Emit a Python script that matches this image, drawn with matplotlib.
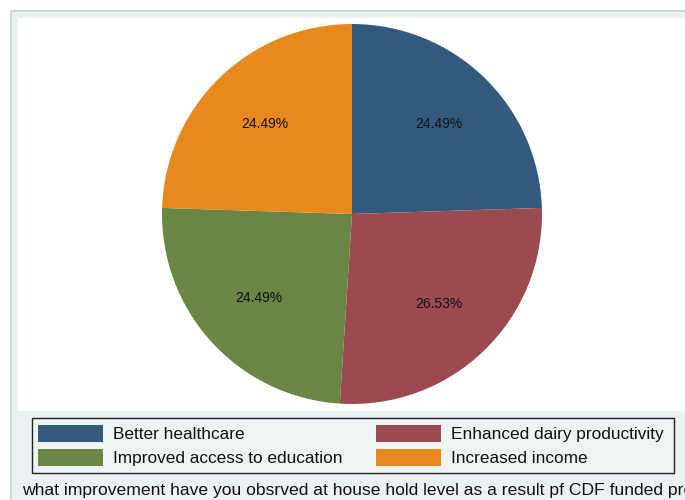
import matplotlib
matplotlib.use("Agg")
import matplotlib.pyplot as plt
from matplotlib.patches import Rectangle

plt.rcParams["font.family"] = ["Liberation Sans", "DejaVu Sans"]

# responses per improvement category (pie goes clockwise from 12 o'clock)
categories = ["Better healthcare", "Enhanced dairy productivity",
              "Improved access to education", "Increased income"]
counts = [12, 13, 12, 12]
colors = ["#335a7c", "#9b4a4f", "#6a8544", "#e8891e"]
caption = ("what improvement have you obsrved at house hold level "
           "as a result pf CDF funded projects")

W, H = 685, 500
fig = plt.figure(figsize=(W / 100, H / 100), dpi=100, facecolor="white")

# backdrop in pixel coordinates: graph region, plot region, legend frame
bg = fig.add_axes([0, 0, 1, 1], zorder=0)
bg.set_xlim(0, W)
bg.set_ylim(H, 0)
bg.axis("off")
bg.add_patch(Rectangle((11, 11), 700, 500, facecolor="#eaf2f3",
                       edgecolor="#d0d0d0", lw=1.2))
bg.add_patch(Rectangle((18, 18), 700, 393, facecolor="white", edgecolor="none"))
bg.add_patch(Rectangle((32, 418), 642, 55, facecolor="#eef4f4",
                       edgecolor="#222222", lw=1.0))

# pie
ax = fig.add_axes([162 / W, (H - 404) / H, 380 / W, 380 / H], zorder=1)
wedges, _, pct = ax.pie(counts, colors=colors, startangle=90, counterclock=False,
                        autopct="%.2f%%", pctdistance=0.66, radius=1,
                        wedgeprops=dict(linewidth=0))
for t in pct:
    t.set_fontsize(10)
    t.set_color("#111111")
ax.set_xlim(-1, 1)
ax.set_ylim(-1, 1)
ax.set_aspect("equal")
ax.axis("off")

# two-column legend
col_x = [38, 376]
row_y = [425, 449]
for i, (lab, c) in enumerate(zip(categories, colors)):
    x = col_x[i % 2]
    y = row_y[i // 2]
    bg.add_patch(Rectangle((x, y), 65, 17, facecolor=c, edgecolor="none"))
    bg.text(x + 75, y + 9.5, lab, fontsize=12.4, va="center", ha="left", color="#111111")

bg.text(22, 490, caption, fontsize=12.6, va="center", ha="left", color="#111111")

fig.savefig("out.png", dpi=100, facecolor="white")
